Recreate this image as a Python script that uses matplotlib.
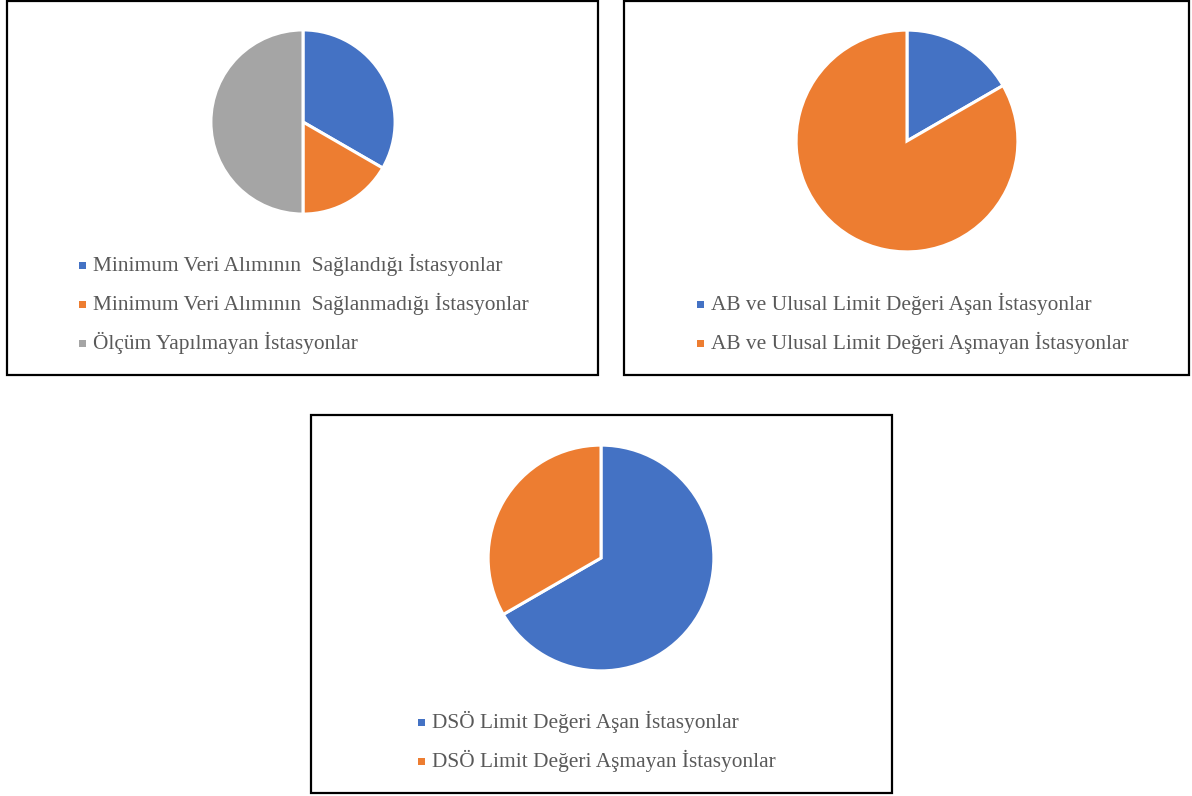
import matplotlib
matplotlib.use("Agg")
import matplotlib.pyplot as plt
from matplotlib.patches import Rectangle

# ── data ─────────────────────────────────────────────────────────────────────
labels_1 = ["Minimum Veri Alımının  Sağlandığı İstasyonlar",
            "Minimum Veri Alımının  Sağlanmadığı İstasyonlar",
            "Ölçüm Yapılmayan İstasyonlar"]
values_1 = [2, 1, 3]

labels_2 = ["AB ve Ulusal Limit Değeri Aşan İstasyonlar",
            "AB ve Ulusal Limit Değeri Aşmayan İstasyonlar"]
values_2 = [1, 5]

labels_3 = ["DSÖ Limit Değeri Aşan İstasyonlar",
            "DSÖ Limit Değeri Aşmayan İstasyonlar"]
values_3 = [2, 1]

colors = ["#4472C4", "#ED7D31", "#A5A5A5"]

W, H = 1192, 796
fig = plt.figure(figsize=(W / 100, H / 100), dpi=100)
fig.patch.set_facecolor("white")


def box(x0, y0, x1, y1):
    fig.add_artist(Rectangle((x0 / W, 1 - y1 / H), (x1 - x0) / W, (y1 - y0) / H,
                             transform=fig.transFigure, fill=False,
                             ec="black", lw=1.6))


def pie_at(cx, cy, r, values):
    ax = fig.add_axes([(cx - r) / W, 1 - (cy + r) / H, 2 * r / W, 2 * r / H])
    ax.pie(values, colors=colors[:len(values)], startangle=90, counterclock=False,
           radius=1.0, wedgeprops=dict(edgecolor="white", linewidth=2.2))
    ax.set_xlim(-1.01, 1.01)
    ax.set_ylim(-1.01, 1.01)
    ax.set_aspect("equal")
    ax.axis("off")


def legend_at(x_marker, y_first, labels, step=39):
    for i, lab in enumerate(labels):
        y = y_first + i * step
        fig.add_artist(Rectangle(((x_marker - 3.5) / W, 1 - (y + 3.5) / H), 7 / W, 7 / H,
                                 transform=fig.transFigure, color=colors[i], lw=0))
        fig.text((x_marker + 11) / W, 1 - y / H, lab, family="Liberation Serif",
                 fontsize=15.4, color="#595959", va="center", ha="left")


# ── panel 1 ──
box(7, 1, 598, 375)
pie_at(303, 122, 93, values_1)
legend_at(82, 265, labels_1)

# ── panel 2 ──
box(624, 1, 1189, 375)
pie_at(907, 141, 112, values_2)
legend_at(700, 304, labels_2)

# ── panel 3 ──
box(311, 415, 892, 793)
pie_at(601, 558, 114, values_3)
legend_at(421, 722, labels_3)

fig.savefig("out.png", dpi=100)
